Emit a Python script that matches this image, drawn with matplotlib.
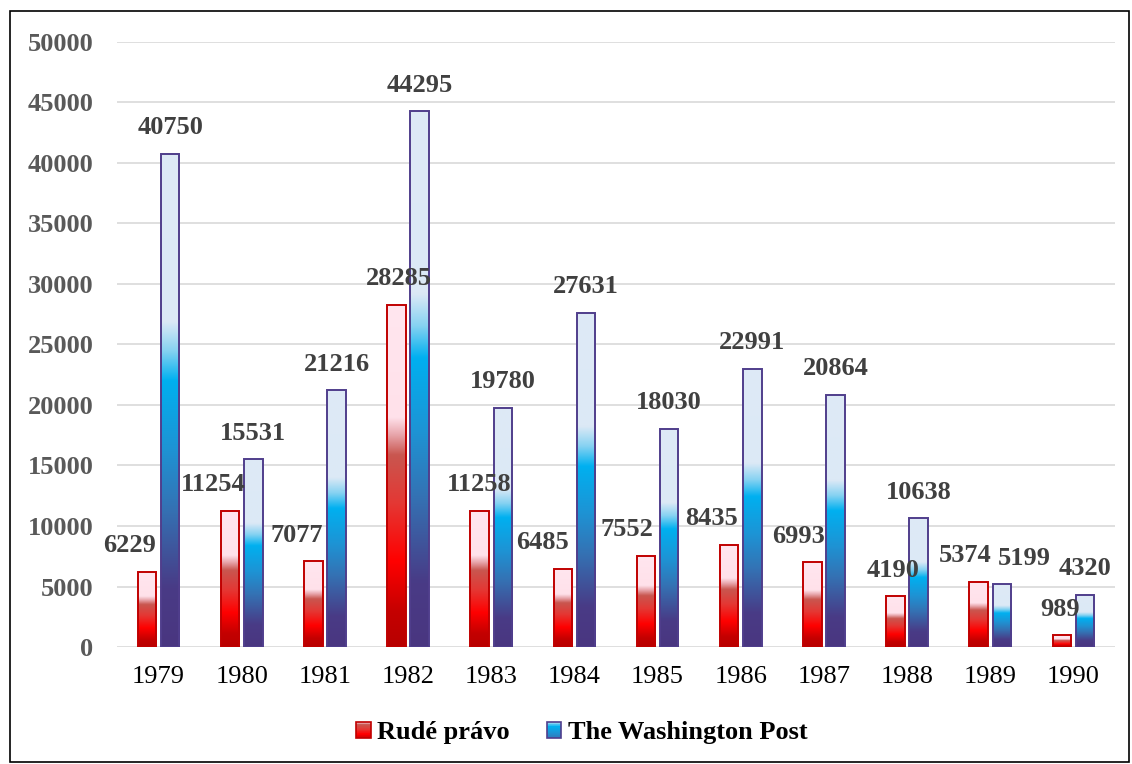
import numpy as np
import matplotlib
matplotlib.use("Agg")
import matplotlib.pyplot as plt
from matplotlib.colors import LinearSegmentedColormap
from matplotlib.patches import Rectangle
from matplotlib.legend_handler import HandlerBase

# ---------------- data ----------------
years = ["1979", "1980", "1981", "1982", "1983", "1984", "1985", "1986", "1987", "1988", "1989", "1990"]
rude_pravo = [6229, 11254, 7077, 28285, 11258, 6485, 7552, 8435, 6993, 4190, 5374, 989]
washington_post = [40750, 15531, 21216, 44295, 19780, 27631, 18030, 22991, 20864, 10638, 5199, 4320]
series_names = ["Rudé právo", "The Washington Post"]
y_ticks = [0, 5000, 10000, 15000, 20000, 25000, 30000, 35000, 40000, 45000, 50000]

# ---------------- style ----------------
plt.rcParams['font.family'] = ['Liberation Serif', 'DejaVu Serif']
FS = 19

red_cmap = LinearSegmentedColormap.from_list("red", [
    (0.00, "#B80000"), (0.10, "#C40000"), (0.25, "#FF0000"), (0.42, "#E43834"),
    (0.56, "#C9564F"), (0.62, "#E8A6AC"), (0.67, "#FFE1EA"), (1.00, "#FFE6EF")])
blue_cmap = LinearSegmentedColormap.from_list("blue", [
    (0.00, "#4A3680"), (0.12, "#493B86"), (0.28, "#3472B4"), (0.40, "#1E93D4"),
    (0.54, "#00B0F0"), (0.60, "#86D2F2"), (0.66, "#DCE9F6"), (1.00, "#DEEAF6")])
red_edge = "#C00000"
blue_edge = "#503E8C"

# label x-shifts in pixels (manual placement in the reference)
red_dx = [-17, -17, -17, 2, 0, -20, -19, -18, -14, -2, -13, -2]
blue_dx = [0, 0, 0, 0, 0, 0, 0, 0, 0, 0, 22, 0]
label_dy = 26

W, H = 1132, 764
fig = plt.figure(figsize=(W / 100, H / 100), dpi=100)
ax = fig.add_axes([117 / W, 1 - 647 / H, 998 / W, 605 / H])

x = np.arange(len(years))
bw = 0.222
off = 0.14

bars_r = ax.bar(x - off, rude_pravo, width=bw, facecolor='none', edgecolor=red_edge, linewidth=1.4, zorder=3)
bars_b = ax.bar(x + off, washington_post, width=bw, facecolor='none', edgecolor=blue_edge, linewidth=1.4, zorder=3)

grad = np.linspace(0, 1, 256).reshape(-1, 1)
for bars, cmap in ((bars_r, red_cmap), (bars_b, blue_cmap)):
    for p in bars:
        x0, w, h = p.get_x(), p.get_width(), p.get_height()
        ax.imshow(grad, extent=(x0, x0 + w, 0, h), origin='lower', cmap=cmap,
                  aspect='auto', interpolation='bilinear', zorder=2)

# data labels
for bars, vals, dxs in ((bars_r, rude_pravo, red_dx), (bars_b, washington_post, blue_dx)):
    for p, v, dx in zip(bars, vals, dxs):
        ax.annotate(f"{v}", (p.get_x() + p.get_width() / 2, v), xytext=(dx, label_dy),
                    textcoords='offset pixels', ha='center', va='center',
                    fontsize=FS, fontweight='bold', color='#404040', zorder=5)

ax.set_xlim(-0.5, len(years) - 0.5)
ax.set_ylim(0, 50000)
ax.set_yticks(y_ticks)
ax.set_yticklabels([str(t) for t in y_ticks], fontsize=FS, fontweight='bold', color='#595959')
ax.set_xticks(x)
ax.set_xticklabels(years, fontsize=FS, color='black')
ax.tick_params(axis='y', length=0, pad=17)
ax.tick_params(axis='x', length=0, pad=14)
ax.yaxis.grid(True, color='#D9D9D9', linewidth=1.2)
ax.set_axisbelow(True)
for s in ax.spines.values():
    s.set_visible(False)


# legend with gradient squares
class GradHandle:
    def __init__(self, cmap, edge, lo, hi):
        self.cmap = cmap
        self.edge = edge
        self.lo = lo
        self.hi = hi


class GradHandler(HandlerBase):
    def create_artists(self, legend, orig_handle, xdescent, ydescent, width, height, fontsize, trans):
        arts = []
        n = 24
        for k in range(n):
            t = orig_handle.lo + (orig_handle.hi - orig_handle.lo) * (k + 0.5) / n
            arts.append(Rectangle((-xdescent, -ydescent + height * k / n), width, height / n + 0.3,
                                  facecolor=orig_handle.cmap(t), edgecolor='none', transform=trans))
        arts.append(Rectangle((-xdescent, -ydescent), width, height, facecolor='none',
                              edgecolor=orig_handle.edge, linewidth=1.2, transform=trans))
        return arts


handles = [GradHandle(red_cmap, red_edge, 0.12, 0.64), GradHandle(blue_cmap, blue_edge, 0.3, 0.62)]
fig.legend(handles, series_names, handler_map={GradHandle: GradHandler()},
           loc='center', bbox_to_anchor=(582 / W, 1 - 733 / H), ncol=2, frameon=False,
           prop={'size': FS, 'weight': 'bold'}, handlelength=0.55, handleheight=0.55,
           handletextpad=0.25, columnspacing=1.4)

# outer frame
fig.patches.append(Rectangle((10 / W, 2 / H), (1129 - 10) / W, (763 - 12) / H,
                             transform=fig.transFigure, facecolor='none',
                             edgecolor='black', linewidth=1.2))

fig.savefig("out.png", dpi=100)
